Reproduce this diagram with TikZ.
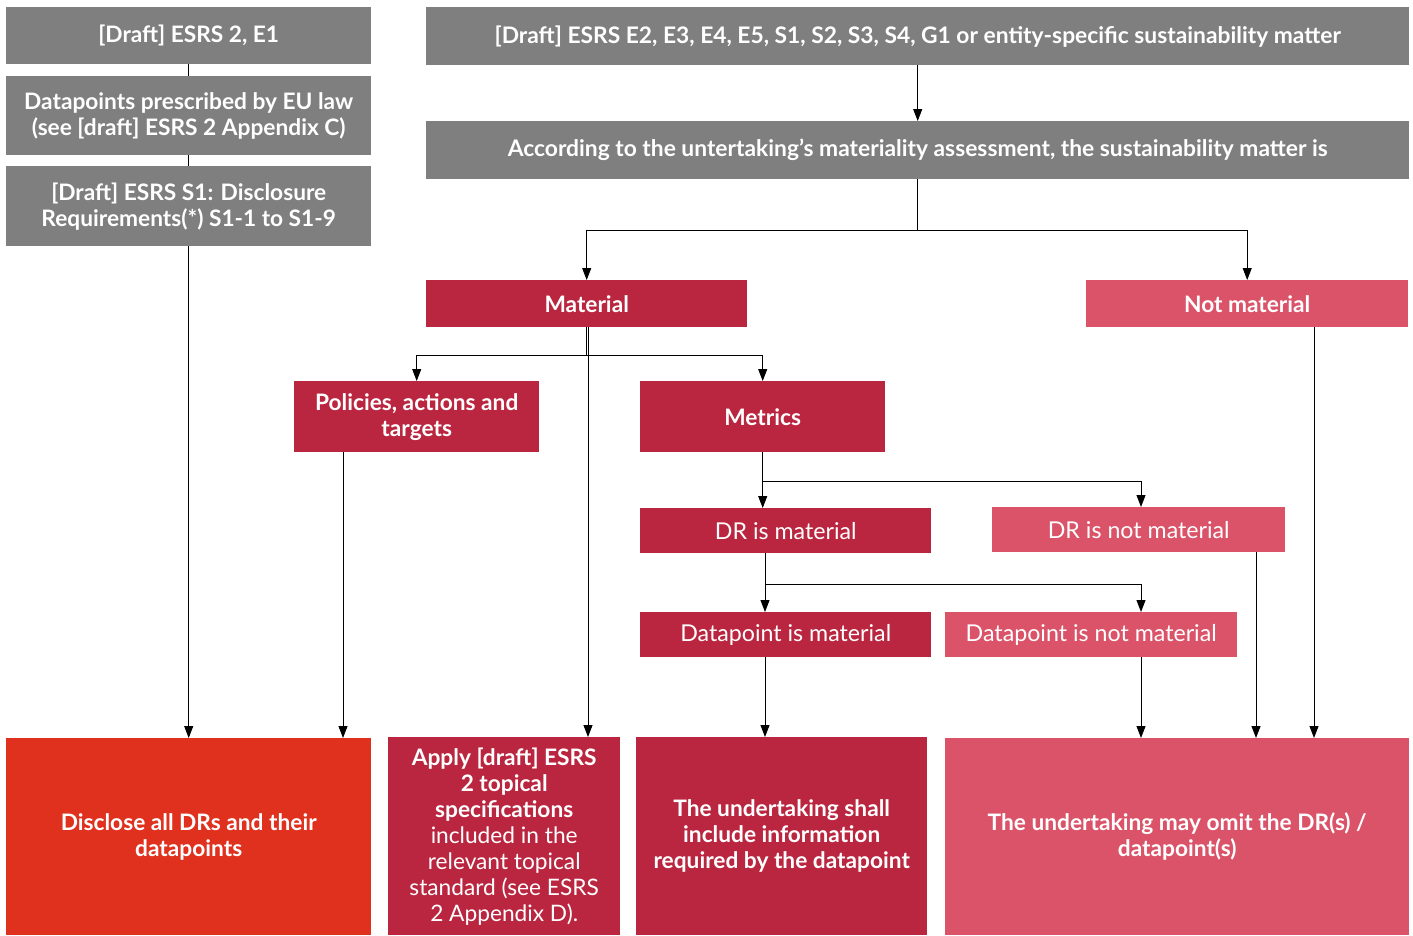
\documentclass[tikz,border=0pt]{standalone}
\usepackage{fontspec}
\setmainfont{Lato}
\usetikzlibrary{arrows.meta}
\definecolor{greybox}{HTML}{7F7F7F}
\definecolor{crim}{HTML}{BA2640}
\definecolor{pinkb}{HTML}{DB5369}
\definecolor{orng}{HTML}{E0301E}
\tikzset{
  box/.style={draw=none, text=white, align=center, anchor=north west, inner sep=2pt,
    font=\fontsize{22.7}{26}\selectfont\bfseries},
  regbox/.style={box, font=\fontsize{23.2}{26}\selectfont},
  condbox/.style={box, font=\fontsize{22.8}{26}\selectfont\bfseries},
  conn/.style={draw=black, line width=0.9pt},
  arr/.style={conn, -{Triangle[length=12pt,width=9pt]}},
}
\begin{document}
\begin{tikzpicture}[x=1pt,y=-1pt]
\useasboundingbox (0,0) rectangle (1413,935);
% left column
\node[box, fill=greybox, minimum width=365pt, minimum height=57pt] (g1) at (6,7) {[Draft] ESRS 2, E1};
\node[box, fill=greybox, minimum width=365pt, minimum height=79pt] (g2) at (6,76) {Datapoints prescribed by EU law\\(see [draft] ESRS 2 Appendix C)};
\node[box, fill=greybox, minimum width=365pt, minimum height=80pt] (g3) at (6,166) {[Draft] ESRS S1: Disclosure\\Requirements(*) S1-1 to S1-9};
% top right
\node[condbox, fill=greybox, minimum width=983pt, minimum height=58pt] (t1) at (426,7) {[Draft] ESRS E2, E3, E4, E5, S1, S2, S3, S4, G1 or entity-specific sustainability matter};
\node[condbox, fill=greybox, minimum width=983pt, minimum height=58pt] (t2) at (426,121) {According to the untertaking’s materiality assessment, the sustainability matter is};
% materiality
\node[box, fill=crim, minimum width=321pt, minimum height=47pt] (mat) at (426,280) {Material};
\node[box, fill=pinkb, minimum width=322pt, minimum height=47pt] (nmat) at (1086,280) {Not material};
\node[box, fill=crim, minimum width=245pt, minimum height=71pt] (pol) at (294,381) {Policies, actions and\\targets};
\node[box, fill=crim, minimum width=245pt, minimum height=71pt] (met) at (640,381) {Metrics};
\node[regbox, fill=crim, minimum width=291pt, minimum height=45pt] (drm) at (640,508) {DR is material};
\node[regbox, fill=pinkb, minimum width=293pt, minimum height=45pt] (drn) at (992,507) {DR is not material};
\node[regbox, fill=crim, minimum width=291pt, minimum height=45pt] (dpm) at (640,612) {Datapoint is material};
\node[regbox, fill=pinkb, minimum width=292pt, minimum height=45pt] (dpn) at (945,612) {Datapoint is not material};
% bottom
\node[box, fill=orng, minimum width=365pt, minimum height=197pt] (disc) at (6,738) {Disclose all DRs and their\\datapoints};
\node[box, fill=crim, minimum width=232pt, minimum height=198pt] (apply) at (388,737) {Apply [draft] ESRS\\2 topical\\specifications\\\mdseries included in the\\\mdseries relevant topical\\\mdseries standard (see ESRS\\\mdseries 2 Appendix D).};
\node[box, fill=crim, minimum width=291pt, minimum height=198pt] (shall) at (636,737) {The undertaking shall\\include information\\required by the datapoint};
\node[box, fill=pinkb, minimum width=464pt, minimum height=197pt] (omit) at (945,738) {The undertaking may omit the DR(s) /\\datapoint(s)};
% x positions of vertical connectors
\coordinate (xp) at (343,0);
\coordinate (xm) at (588,0);
\coordinate (xd) at (765,0);
\coordinate (xe) at (1141,0);
\coordinate (xf) at (1256,0);
\coordinate (xg) at (1314,0);
% connectors
\draw[conn] (g1.south) -- (g2.north);
\draw[conn] (g2.south) -- (g3.north);
\draw[arr] (g3.south) -- (disc.north);
\draw[arr] (t1.south) -- (t2.north);
\draw[arr] (t2.south) -- ++(0,51) -| (mat.north);
\draw[arr] (t2.south) -- ++(0,51) -| (nmat.north);
\draw[arr] (mat.south) -- ++(0,28) -| (pol.north);
\draw[arr] (mat.south) -- ++(0,28) -| (met.north);
\draw[arr] (mat.south -| xm) -- (apply.north -| xm);
\draw[arr] (pol.south -| xp) -- (disc.north -| xp);
\draw[arr] (met.south) -- (met.south |- drm.north);
\draw[arr] (met.south) -- ++(0,29) -| (drn.north -| xe);
\draw[arr] (drm.south -| xd) -- (dpm.north -| xd);
\draw[arr] (drm.south -| xd) -- ++(0,31) -| (dpn.north -| xe);
\draw[arr] (dpm.south -| xd) -- (shall.north -| xd);
\draw[arr] (dpn.south -| xe) -- (omit.north -| xe);
\draw[arr] (drn.south -| xf) -- (omit.north -| xf);
\draw[arr] (nmat.south -| xg) -- (omit.north -| xg);
\end{tikzpicture}
\end{document}
